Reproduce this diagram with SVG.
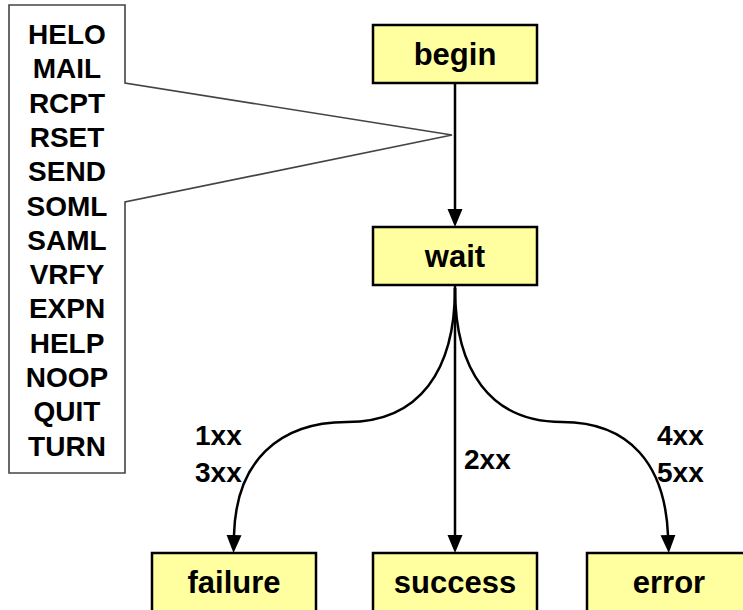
<svg xmlns="http://www.w3.org/2000/svg" width="743" height="610" viewBox="0 0 743 610">
  <style>
    .box { fill: #ffffa0; stroke: #000; stroke-width: 2.5; }
    .lbl { font-family: "Liberation Sans", Arial, sans-serif; font-weight: bold; font-size: 31px; fill: #000; text-anchor: middle; }
    .cmd { font-family: "Liberation Sans", Arial, sans-serif; font-weight: bold; font-size: 28px; fill: #000; text-anchor: middle; }
    .code { font-family: "Liberation Sans", Arial, sans-serif; font-weight: bold; font-size: 28px; fill: #000; }
    .conn { fill: none; stroke: #000; stroke-width: 2.5; marker-end: url(#arrow); }
    .callout { fill: #fff; stroke: #444; stroke-width: 1.6; }
  </style>
  <defs>
    <marker id="arrow" markerUnits="userSpaceOnUse" markerWidth="18" markerHeight="16" refX="0" refY="7.5" orient="auto" viewBox="0 0 18 15">
      <path d="M0,0 L18,7.5 L0,15 Z" fill="#000"/>
    </marker>
  </defs>
  <rect width="743" height="610" fill="#fff"/>

  <g id="commands">
    <path class="callout" d="M9,5 H125 V83 L452,135 L125,202 V473 H9 Z"/>
    <text class="cmd" x="67" y="44">HELO</text>
    <text class="cmd" x="67" y="78.3">MAIL</text>
    <text class="cmd" x="67" y="112.6">RCPT</text>
    <text class="cmd" x="67" y="146.9">RSET</text>
    <text class="cmd" x="67" y="181.2">SEND</text>
    <text class="cmd" x="67" y="215.5">SOML</text>
    <text class="cmd" x="67" y="249.8">SAML</text>
    <text class="cmd" x="67" y="284.1">VRFY</text>
    <text class="cmd" x="67" y="318.4">EXPN</text>
    <text class="cmd" x="67" y="352.7">HELP</text>
    <text class="cmd" x="67" y="387">NOOP</text>
    <text class="cmd" x="67" y="421.3">QUIT</text>
    <text class="cmd" x="67" y="455.6">TURN</text>
  </g>

  <g id="connectors">
    <path class="conn" d="M455,83 V209"/>
    <path class="conn" d="M455,285 V535"/>
    <path class="conn" d="M455,288 C455,370 420,422 347,422 C278,422 236,462 234,535"/>
    <path class="conn" d="M455,288 C455,370 490,422 562,422 C630,422 665,465 668,535"/>
    <text class="code" x="195" y="445">1xx</text>
    <text class="code" x="195" y="482">3xx</text>
    <text class="code" x="464" y="469">2xx</text>
    <text class="code" x="657" y="445">4xx</text>
    <text class="code" x="657" y="482">5xx</text>
  </g>

  <g id="begin">
    <rect class="box" x="373" y="25" width="164" height="58"/>
    <text class="lbl" x="455" y="65">begin</text>
  </g>
  <g id="wait">
    <rect class="box" x="373" y="227" width="164" height="58"/>
    <text class="lbl" x="455" y="267">wait</text>
  </g>
  <g id="failure">
    <rect class="box" x="152" y="553" width="164" height="60"/>
    <text class="lbl" x="234" y="593">failure</text>
  </g>
  <g id="success">
    <rect class="box" x="373" y="553" width="164" height="60"/>
    <text class="lbl" x="455" y="593">success</text>
  </g>
  <g id="error">
    <rect class="box" x="587" y="553" width="164" height="60"/>
    <text class="lbl" x="669" y="593">error</text>
  </g>
</svg>
